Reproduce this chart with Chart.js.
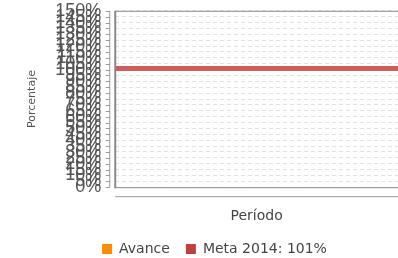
<!DOCTYPE html>
<html lang="es">
<head>
<meta charset="UTF-8">
<script src="https://cdn.jsdelivr.net/npm/chart.js@4/dist/chart.umd.min.js"></script>
<style>
  html, body { margin: 0; padding: 0; background: #fff; }
  #wrap { width: 398px; height: 258px; }
</style>
</head>
<body>
<div id="wrap"><canvas id="chart"></canvas></div>
<script>
// datos
const periodos = ['', ''];
const avance = [null, null];
const meta = [101, 101];
const yMin = 0, yMax = 150, yStep = 5;

// marco del grafico: borde, eje y separado, eje x doble
const marco = {
  id: 'marco',
  afterLayout(chart) {
    // la leyenda del original no esta centrada en el lienzo
    chart.legend.left += 5;
    chart.legend.right += 5;
  },
  afterDraw(chart) {
    const { ctx, chartArea: a, scales } = chart;
    ctx.save();
    ctx.strokeStyle = '#8a8a8a';
    ctx.lineWidth = 1;
    ctx.beginPath();
    ctx.moveTo(a.left, a.top + 0.5);
    ctx.lineTo(a.right, a.top + 0.5);
    ctx.moveTo(a.left, a.bottom + 0.5);
    ctx.lineTo(a.right, a.bottom + 0.5);
    ctx.stroke();
    ctx.lineWidth = 2;
    ctx.beginPath();
    ctx.moveTo(a.left, a.top);
    ctx.lineTo(a.left, a.bottom + 1);
    ctx.stroke();
    // linea del eje x
    ctx.lineWidth = 1;
    ctx.strokeStyle = '#999';
    ctx.beginPath();
    ctx.moveTo(a.left, a.bottom + 9.5);
    ctx.lineTo(a.right, a.bottom + 9.5);
    ctx.stroke();
    // eje y con marcas
    const x0 = a.left - 5.5;
    ctx.beginPath();
    ctx.moveTo(x0, a.top);
    ctx.lineTo(x0, a.bottom);
    scales.y.ticks.forEach(t => {
      const y = Math.round(scales.y.getPixelForValue(t.value)) + 0.5;
      ctx.moveTo(x0 - 4, y);
      ctx.lineTo(x0, y);
    });
    ctx.stroke();
    ctx.restore();
  }
};

new Chart(document.getElementById('chart'), {
  type: 'bar',
  data: {
    labels: periodos,
    datasets: [
      { label: 'Avance', data: avance, backgroundColor: '#ff8c00' },
      {
        type: 'line', label: 'Meta 2014: 101%', data: meta,
        borderColor: '#d05c5c', backgroundColor: '#c04040',
        borderWidth: 5, pointRadius: 0, fill: false
      }
    ]
  },
  options: {
    responsive: true,
    maintainAspectRatio: false,
    animation: false,
    layout: { padding: { top: 1, right: 0, left: 21, bottom: -8 } },
    plugins: {
      tooltip: { enabled: false },
      legend: {
        position: 'bottom',
        labels: {
          boxWidth: 10, boxHeight: 10, padding: 16,
          color: '#444',
          font: { family: 'DejaVu Sans', size: 14 },
          generateLabels(chart) {
            return chart.data.datasets.map((ds, i) => ({
              text: ds.label,
              fillStyle: ds.backgroundColor,
              strokeStyle: ds.backgroundColor,
              lineWidth: 0,
              hidden: false,
              datasetIndex: i,
              fontColor: '#444'
            }));
          }
        }
      }
    },
    scales: {
      x: {
        offset: false,
        grid: { display: false },
        border: { display: false },
        ticks: { display: false },
        title: {
          display: true, text: 'Período', color: '#444',
          font: { family: 'DejaVu Sans', size: 14 },
          padding: { top: 13, bottom: 1 }
        }
      },
      y: {
        min: yMin, max: yMax,
        border: { display: false, dash: [4, 3] },
        grid: {
          color: '#e2e2e2',
          drawTicks: true, tickLength: 14, tickColor: 'rgba(0,0,0,0)'
        },
        ticks: {
          stepSize: yStep, autoSkip: false, padding: 0,
          color: '#555',
          font: { family: 'Liberation Sans', size: 18 },
          callback: v => v + '%'
        },
        title: {
          display: true, text: 'Porcentaje', color: '#555',
          font: { family: 'DejaVu Sans', size: 11 },
          padding: { top: 5, bottom: 16 }
        }
      }
    }
  },
  plugins: [marco]
});
</script>
</body>
</html>
